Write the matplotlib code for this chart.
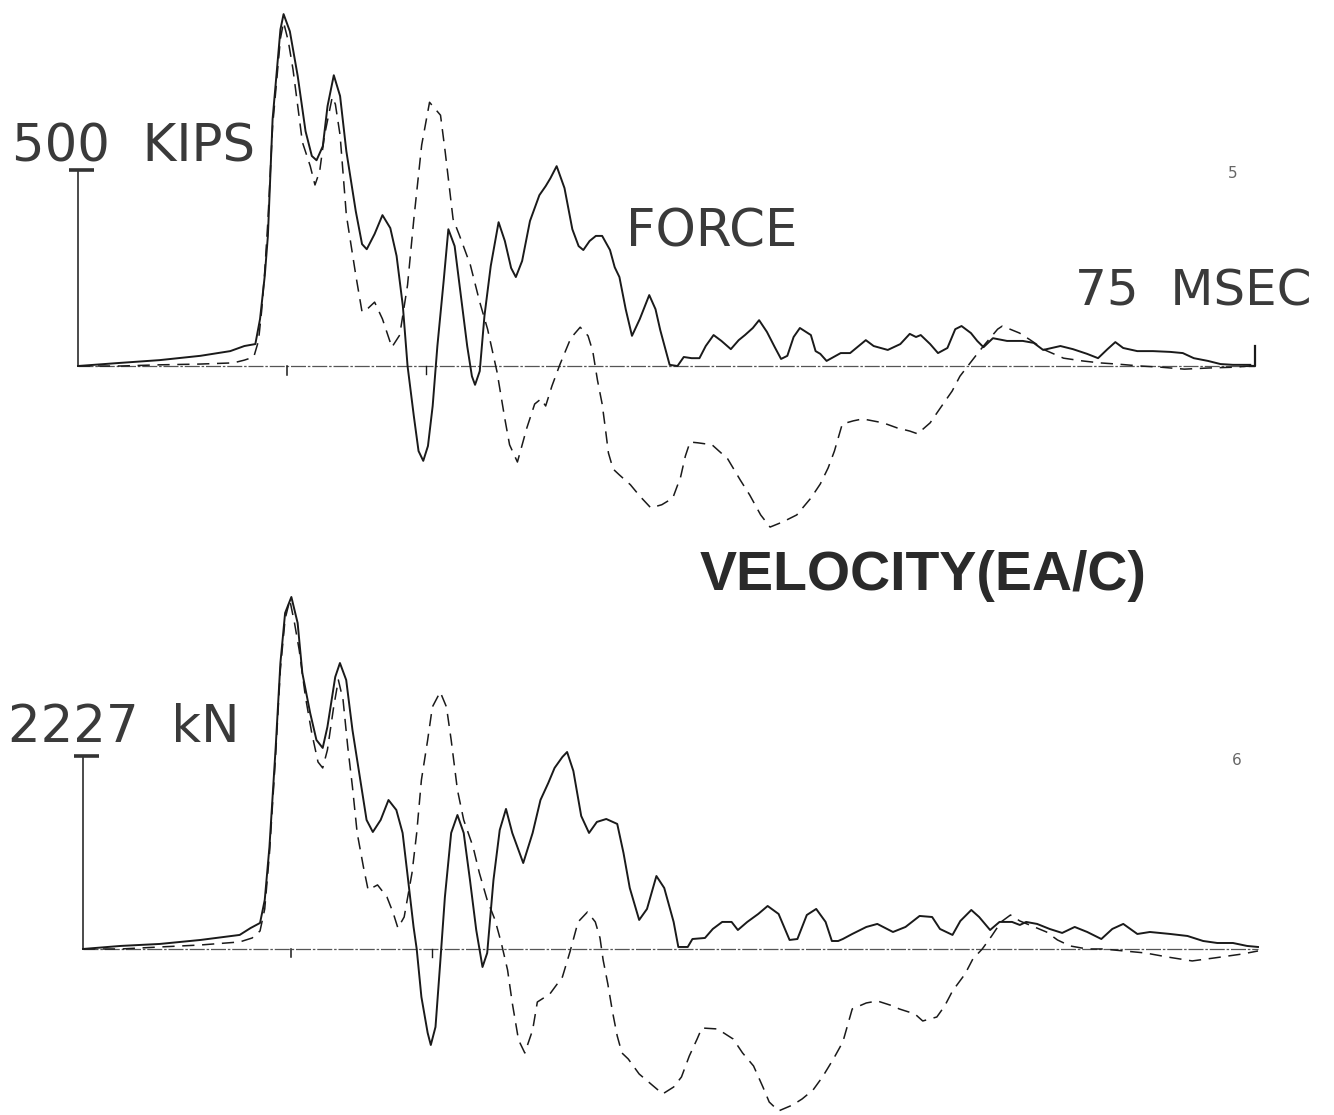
import matplotlib
matplotlib.use("Agg")
import matplotlib.pyplot as plt

# upper record: time in ms, force and velocity (EA/C) in kips
top_time_f = [0.0, 2.7, 5.2, 7.8, 9.7, 10.6, 11.3, 11.6, 11.9, 12.1,
              12.4, 12.9, 13.1, 13.5, 14.0, 14.5, 14.9, 15.2, 15.6, 15.9,
              16.3, 16.7, 17.1, 17.7, 18.1, 18.4, 18.9, 19.4, 19.9, 20.3,
              20.7, 21.0, 21.4, 21.7, 22.0, 22.3, 22.6, 22.9, 23.3, 23.6,
              24.0, 24.4, 24.8, 25.1, 25.3, 25.6, 25.9, 26.3, 26.8, 27.2,
              27.6, 27.9, 28.3, 28.8, 29.4, 29.8, 30.1, 30.5, 31.0, 31.5,
              31.9, 32.2, 32.6, 33.0, 33.4, 33.9, 34.2, 34.5, 34.9, 35.3,
              35.8, 36.4, 36.8, 37.1, 37.5, 37.7, 38.2, 38.6, 39.1, 39.6,
              40.0, 40.5, 41.0, 41.6, 42.1, 42.5, 43.0, 43.4, 43.9, 44.4,
              44.8, 45.2, 45.6, 46.0, 46.7, 47.0, 47.3, 47.7, 48.6, 49.2,
              50.2, 50.7, 51.6, 52.4, 53.0, 53.4, 53.7, 54.3, 54.8, 55.4,
              55.9, 56.3, 56.9, 57.3, 57.7, 58.3, 59.2, 60.2, 60.9, 61.5,
              62.6, 63.4, 64.3, 65.0, 65.6, 66.1, 66.6, 67.5, 68.5, 69.6,
              70.4, 71.1, 72.0, 72.8, 73.6, 74.7]
top_force = [0, 8, 15, 26, 38, 51, 56, 120, 230, 332,
             630, 859, 898, 854, 740, 599, 536, 525, 561, 663,
             742, 689, 548, 395, 311, 298, 337, 385, 352, 281,
             153, 0, -128, -217, -242, -204, -102, 51, 217, 349,
             306, 179, 51, -26, -48, -13, 128, 255, 367, 319,
             250, 227, 268, 370, 436, 459, 479, 510, 454, 349,
             306, 296, 319, 332, 332, 296, 252, 227, 145, 77,
             120, 181, 145, 92, 33, 3, 0, 23, 20, 20,
             51, 79, 64, 43, 66, 79, 97, 117, 87, 48,
             18, 26, 74, 97, 79, 38, 31, 13, 33, 33,
             66, 51, 41, 56, 82, 74, 79, 56, 33, 46,
             94, 102, 84, 64, 48, 71, 64, 64, 59, 41,
             51, 43, 31, 20, 43, 61, 46, 38, 38, 36,
             33, 20, 13, 5, 3, 3]

top_time_v = [0.0, 2.7, 5.2, 7.8, 9.9, 10.6, 11.2, 11.5, 11.7, 11.9,
              12.1, 12.4, 12.9, 13.1, 13.4, 13.7, 14.3, 14.8, 15.1, 15.4,
              15.7, 16.2, 16.4, 16.7, 17.1, 17.7, 18.1, 18.5, 18.9, 19.4,
              20.0, 20.5, 21.0, 21.4, 21.9, 22.4, 23.1, 23.4, 23.9, 24.3,
              25.0, 25.6, 26.1, 26.7, 27.2, 27.5, 28.0, 28.6, 29.1, 29.5,
              29.8, 30.2, 30.7, 31.4, 32.0, 32.5, 32.8, 33.1, 33.4, 33.6,
              33.8, 34.1, 34.5, 35.2, 35.8, 36.5, 37.2, 37.9, 38.4, 38.7,
              39.0, 39.5, 40.4, 41.4, 42.2, 42.8, 43.5, 44.1, 44.9, 45.8,
              46.7, 47.3, 47.8, 48.2, 48.7, 49.4, 50.0, 51.3, 52.2, 53.0,
              53.5, 54.3, 54.9, 55.7, 56.2, 56.7, 57.3, 57.8, 58.6, 58.9,
              60.0, 60.7, 61.6, 62.8, 64.0, 65.1, 66.2, 67.7, 69.0, 70.5,
              72.1, 73.7, 74.7]
top_velocity = [0, 0, 3, 5, 8, 15, 23, 64, 140, 242,
                370, 612, 836, 877, 829, 757, 571, 510, 462, 497,
                587, 686, 668, 589, 385, 232, 138, 148, 163, 120,
                48, 79, 207, 375, 564, 673, 640, 546, 375, 334,
                258, 163, 94, -15, -135, -201, -245, -158, -97, -84,
                -102, -51, 3, 71, 99, 77, 38, -36, -97, -158,
                -222, -263, -278, -303, -332, -362, -354, -337, -283, -230,
                -194, -196, -201, -237, -291, -329, -380, -411, -398, -380,
                -337, -301, -260, -217, -148, -140, -135, -145, -158, -166,
                -173, -145, -110, -64, -26, 0, 31, 56, 94, 102,
                84, 66, 41, 20, 13, 8, 5, 0, -3, -8,
                -5, -3, 0]

# lower record: the same blow in kN
bot_time_f = [0.0, 2.4, 4.9, 7.5, 10.0, 10.7, 11.3, 11.6, 11.9, 12.3,
              12.6, 12.9, 13.3, 13.7, 14.0, 14.5, 14.9, 15.3, 15.6, 16.1,
              16.4, 16.8, 17.2, 17.7, 18.1, 18.5, 19.0, 19.5, 20.0, 20.4,
              20.7, 21.1, 21.3, 21.6, 22.0, 22.2, 22.5, 22.8, 23.1, 23.5,
              23.9, 24.3, 24.7, 25.1, 25.5, 25.8, 26.2, 26.6, 27.0, 27.4,
              28.1, 28.7, 29.2, 29.7, 30.1, 30.6, 30.9, 31.3, 31.8, 32.3,
              32.8, 33.4, 34.1, 34.5, 34.9, 35.5, 36.0, 36.6, 37.1, 37.7,
              38.0, 38.6, 38.9, 39.7, 40.2, 40.8, 41.4, 41.8, 42.4, 43.1,
              43.7, 44.4, 45.1, 45.6, 46.2, 46.8, 47.4, 47.8, 48.2, 48.5,
              49.1, 50.0, 50.7, 51.7, 52.5, 53.4, 54.2, 54.7, 55.5, 56.0,
              56.7, 57.2, 57.9, 58.5, 59.3, 59.8, 60.2, 60.9, 61.7, 62.5,
              63.3, 64.1, 65.0, 65.7, 66.4, 67.3, 68.1, 69.4, 70.5, 71.5,
              72.4, 73.4, 74.3, 75.0]
bot_force = [0, 35, 58, 104, 162, 242, 300, 565, 1177, 2331,
             3300, 3877, 4062, 3762, 3185, 2723, 2412, 2320, 2562, 3139,
             3300, 3104, 2527, 1950, 1489, 1350, 1489, 1719, 1604, 1339,
             877, 254, 0, -554, -969, -1108, -900, -162, 600, 1339,
             1546, 1339, 796, 219, -208, -46, 796, 1373, 1616, 1339,
             992, 1339, 1719, 1916, 2089, 2216, 2273, 2054, 1535, 1339,
             1466, 1500, 1443, 1108, 704, 335, 462, 842, 704, 312,
             23, 23, 115, 127, 231, 312, 312, 219, 312, 404,
             496, 404, 104, 115, 392, 462, 312, 92, 92, 115,
             173, 254, 289, 196, 254, 381, 369, 231, 162, 323,
             450, 369, 219, 312, 312, 277, 312, 289, 231, 185,
             254, 196, 115, 231, 289, 173, 196, 173, 150, 92,
             69, 69, 35, 23]

bot_time_v = [0.0, 2.4, 4.9, 7.5, 10.0, 10.8, 11.3, 11.6, 11.9, 12.3,
              12.6, 12.9, 13.2, 13.5, 13.8, 14.2, 14.6, 15.0, 15.3, 15.6,
              16.0, 16.3, 16.6, 16.9, 17.2, 17.5, 17.9, 18.2, 18.8, 19.4,
              19.8, 20.1, 20.5, 21.0, 21.3, 21.6, 22.0, 22.3, 22.8, 23.2,
              23.5, 23.9, 24.3, 24.9, 25.3, 25.8, 26.3, 26.7, 27.1, 27.4,
              27.8, 28.2, 28.7, 29.0, 29.8, 30.6, 31.1, 31.6, 32.2, 32.7,
              33.0, 33.2, 33.5, 33.8, 34.1, 34.4, 34.8, 35.5, 36.1, 37.0,
              37.7, 38.2, 38.7, 39.2, 39.5, 40.5, 41.5, 42.1, 42.8, 43.4,
              43.8, 44.4, 45.3, 45.9, 46.6, 47.2, 47.9, 48.5, 49.1, 50.0,
              50.7, 51.7, 52.1, 53.1, 53.6, 54.5, 55.0, 55.5, 56.3, 56.8,
              57.4, 58.0, 58.6, 59.2, 59.8, 61.5, 62.2, 63.0, 64.1, 65.1,
              67.8, 69.2, 70.8, 72.2, 74.0, 75.0]
bot_velocity = [0, 0, 23, 46, 81, 127, 208, 462, 1096, 2250,
                3231, 3808, 4027, 3762, 3450, 2908, 2493, 2158, 2089, 2296,
                2793, 3104, 2873, 2331, 1869, 1339, 946, 681, 739, 600,
                415, 242, 369, 877, 1339, 1950, 2412, 2793, 2966, 2793,
                2412, 1835, 1489, 1177, 877, 565, 335, 69, -242, -623,
                -1050, -1200, -935, -612, -519, -323, -23, 312, 427, 312,
                127, -127, -404, -727, -1004, -1200, -1269, -1443, -1535, -1673,
                -1593, -1477, -1235, -1039, -912, -923, -1039, -1200, -1350, -1593,
                -1766, -1869, -1800, -1731, -1627, -1477, -1269, -1073, -692, -623,
                -600, -658, -692, -750, -831, -785, -658, -485, -289, -115,
                0, 150, 312, 392, 323, 196, 104, 35, 0, 0,
                -46, -92, -138, -104, -58, -23]

duration = 75          # ms, full sweep
top_scale = 500        # kips
bot_scale = 2227       # kN

W, H = 1334, 1115
fig = plt.figure(figsize=(W / 100, H / 100), dpi=100)
fig.patch.set_facecolor("white")

def px_axes(x0, x1, y0, y1):
    return fig.add_axes([x0 / W, 1 - y1 / H, (x1 - x0) / W, (y1 - y0) / H])

ax_top = px_axes(78, 1255, 0, 540)
ax_top.set_xlim(0, duration)
ax_top.set_ylim(-444, 934)

ax_bot = px_axes(83, 1258, 580, 1115)
ax_bot.set_xlim(0, duration)
ax_bot.set_ylim(-1916, 4258)

ink = "#1a1a1a"
dash = (0, (8, 5))

for ax, tf, f, tv, v, scale in [
    (ax_top, top_time_f, top_force, top_time_v, top_velocity, top_scale),
    (ax_bot, bot_time_f, bot_force, bot_time_v, bot_velocity, bot_scale),
]:
    ax.axis("off")
    # zero line of the record
    ax.plot([0, duration], [0, 0], color="#555555", lw=0.9,
            ls=(0, (12, 1.5, 2, 1.5)), clip_on=False)
    # vertical scale bar
    ax.plot([0, 0], [0, scale], color=ink, lw=1.1, clip_on=False)
    ax.plot([-0.6, 1.0], [scale, scale], color="#333333", lw=2.6,
            solid_capstyle="butt", clip_on=False)
    ax.plot(tf, f, color=ink, lw=1.4, solid_joinstyle="round", clip_on=False)
    ax.plot(tv, v, color=ink, lw=1.1, ls=dash, clip_on=False)

# time marks under the zero line
ax_top.plot([13.3, 13.3], [0, -23], color=ink, lw=1.1)
ax_top.plot([22.2, 22.2], [0, -20], color=ink, lw=1.0)
ax_bot.plot([13.3, 13.3], [0, -92], color=ink, lw=1.1)
ax_bot.plot([22.3, 22.3], [0, -92], color=ink, lw=1.0)
# end-of-sweep marker
ax_top.plot([74.7, 75, 75], [0, 0, 51], color=ink, lw=1.6, clip_on=False)

txt = dict(family="DejaVu Sans", color="#3a3a3a", va="baseline", ha="left")

def label(x, y, s, size, **kw):
    opts = dict(txt)
    opts.update(kw)
    fig.text(x / W, 1 - y / H, s, fontsize=size, **opts)

label(12, 162, "500  KIPS", 37)
label(8, 742, "2227  kN", 37)
label(626, 246, "FORCE", 37)
label(1075, 306, "75  MSEC", 36)
label(700, 590, "VELOCITY(EA/C)", 40, family="Liberation Sans",
      fontweight="bold", color="#2a2a2a")
label(1228, 178, "5", 11, color="#666666")
label(1232, 765, "6", 11, color="#666666")

fig.savefig("out.png", dpi=100, facecolor="white")
